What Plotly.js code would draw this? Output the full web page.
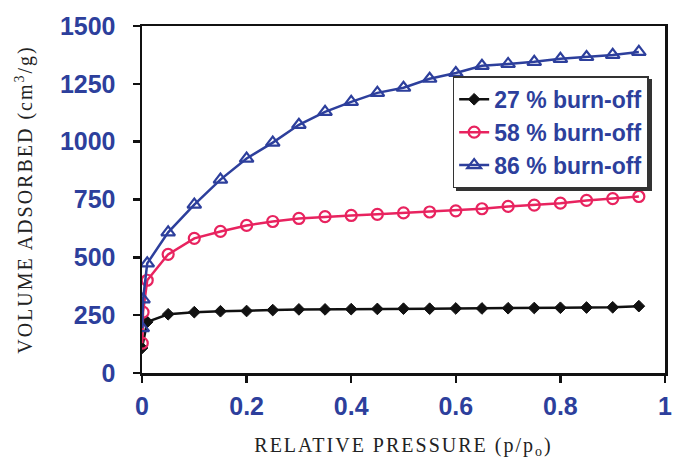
<!DOCTYPE html>
<html>
<head>
<meta charset="utf-8">
<script src="https://cdn.plot.ly/plotly-3.0.1.min.js"></script>
<style>
html,body{margin:0;padding:0;background:#fff;}
#chart{width:673px;height:459px;position:relative;}
.xtitle,.ytitle{letter-spacing:2px;}
g.legend rect.bg{filter:drop-shadow(3px 3px 0px #333);}
</style>
</head>
<body>
<div id="chart"></div>
<script>
const xBlack = [0, 0.01, 0.05, 0.1, 0.15, 0.2, 0.25, 0.3, 0.35, 0.4, 0.45, 0.5, 0.55, 0.6, 0.65, 0.7, 0.75, 0.8, 0.85, 0.9, 0.95];
const yBlack = [108, 221, 254, 263, 267, 268, 272, 275, 275, 276, 277, 278, 278, 279, 279, 280, 281, 282, 283, 284, 289];

const xPink = [0.0005, 0.002, 0.01, 0.05, 0.1, 0.15, 0.2, 0.25, 0.3, 0.35, 0.4, 0.45, 0.5, 0.55, 0.6, 0.65, 0.7, 0.75, 0.8, 0.85, 0.9, 0.95];
const yPink = [129, 263, 401, 513, 582, 612, 638, 655, 668, 676, 681, 686, 692, 696, 701, 710, 720, 726, 734, 746, 754, 763];

const xBlue = [0.0005, 0.002, 0.01, 0.05, 0.1, 0.15, 0.2, 0.25, 0.3, 0.35, 0.4, 0.45, 0.5, 0.55, 0.6, 0.65, 0.7, 0.75, 0.8, 0.85, 0.9, 0.95];
const yBlue = [194, 318, 474, 608, 728, 836, 927, 996, 1073, 1129, 1172, 1211, 1233, 1272, 1297, 1328, 1336, 1345, 1358, 1366, 1375, 1388];

const seriesNames = ["27 % burn-off", "58 % burn-off", "86 % burn-off"];
const xTicks = [0, 0.2, 0.4, 0.6, 0.8, 1];
const xTickText = ["0", "0.2", "0.4", "0.6", "0.8", "1"];
const yTicks = [0, 250, 500, 750, 1000, 1250, 1500];

const BLUE = "#2d3f9c";
const PINK = "#e8235f";
const BLACK = "#111111";
const SANS = "Liberation Sans, Arial, sans-serif";
const SERIF = "Liberation Serif, Times New Roman, serif";

const traces = [
  {x: xBlack, y: yBlack, name: seriesNames[0], mode: "lines+markers",
   line: {color: BLACK, width: 2.5},
   marker: {symbol: "diamond", size: 9, color: BLACK, line: {color: BLACK, width: 1}}},
  {x: xPink, y: yPink, name: seriesNames[1], mode: "lines+markers",
   line: {color: PINK, width: 2.5},
   marker: {symbol: "circle-open", size: 11, color: PINK, line: {color: PINK, width: 2.2}}},
  {x: xBlue, y: yBlue, name: seriesNames[2], mode: "lines+markers",
   line: {color: BLUE, width: 2.5},
   marker: {symbol: "triangle-up-open", size: 12, color: BLUE, line: {color: BLUE, width: 2.2}}}
];

const M = {l: 142, r: 8, t: 26, b: 86};
const layout = {
  width: 673, height: 459,
  margin: M,
  paper_bgcolor: "#fff", plot_bgcolor: "#fff",
  showlegend: true,
  legend: {
    x: 0.594, y: 0.855, xanchor: "left", yanchor: "top",
    bgcolor: "#fff", bordercolor: "#333", borderwidth: 1.5,
    font: {family: SANS, size: 23, color: BLUE, weight: "bold"},
    itemwidth: 30, tracegroupgap: 0
  },
  xaxis: {
    range: [0, 1], tickvals: xTicks, ticktext: xTickText,
    showgrid: false, zeroline: false,
    showline: true, linecolor: "#111", linewidth: 2.5, mirror: true,
    ticks: "outside", ticklen: 7, tickwidth: 2.5, tickcolor: "#111",
    ticklabelstandoff: 2,
    tickfont: {family: SANS, size: 25, color: BLUE, weight: "bold"},
    title: {text: "RELATIVE PRESSURE (p/p<sub>o</sub>)", standoff: 24,
            font: {family: SERIF, size: 20, color: "#222"}}
  },
  yaxis: {
    range: [0, 1500], tickvals: yTicks,
    showgrid: false, zeroline: false,
    showline: true, linecolor: "#111", linewidth: 2.5, mirror: true,
    ticks: "outside", ticklen: 7, tickwidth: 2.5, tickcolor: "#111",
    ticklabelstandoff: 12,
    tickfont: {family: SANS, size: 25, color: BLUE, weight: "bold"},
    title: {text: "VOLUME ADSORBED (cm<sup>3</sup>/g)", standoff: 22,
            font: {family: SERIF, size: 20, color: "#222"}}
  }
};

Plotly.newPlot("chart", traces, layout, {displayModeBar: false, staticPlot: true});
</script>
</body>
</html>
